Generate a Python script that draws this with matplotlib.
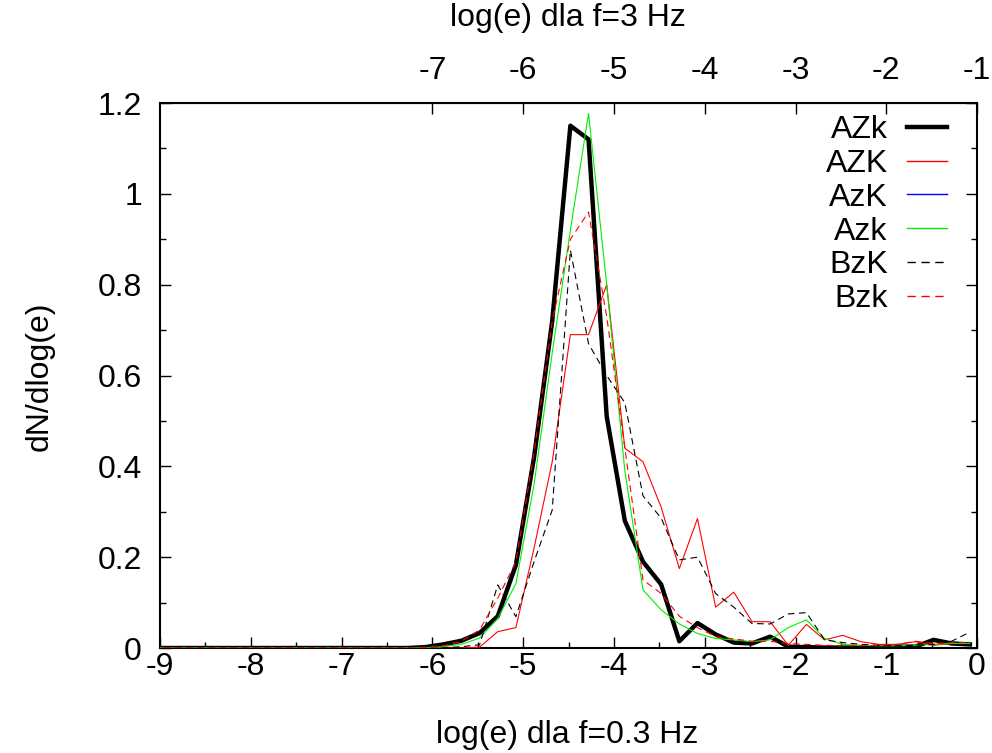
import numpy as np
import matplotlib
matplotlib.use('Agg')
import matplotlib.pyplot as plt
from matplotlib.ticker import MultipleLocator

plt.rcParams['font.family'] = ['Liberation Sans', 'DejaVu Sans']
plt.rcParams['axes.unicode_minus'] = False

# bin centres (log(e) for f=0.3 Hz)
x = [-9.08, -8.88, -8.68, -8.48, -8.28, -8.08, -7.88, -7.68, -7.48, -7.28,
     -7.08, -6.88, -6.68, -6.48, -6.28, -6.08, -5.88, -5.68, -5.48, -5.28,
     -5.08, -4.88, -4.68, -4.48, -4.28, -4.08, -3.88, -3.68, -3.48, -3.28,
     -3.08, -2.88, -2.68, -2.48, -2.28, -2.08, -1.88, -1.68, -1.48, -1.28,
     -1.08, -0.88, -0.68, -0.48, -0.28, -0.08]

AZk = [0, 0, 0, 0, 0, 0, 0, 0, 0, 0,
       0, 0, 0, 0, 0, 0.002, 0.008, 0.016, 0.033, 0.07,
       0.183, 0.42, 0.72, 1.15, 1.12, 0.51, 0.28, 0.19, 0.14, 0.015,
       0.055, 0.03, 0.012, 0.01, 0.025, 0.003, 0.002, 0.001, 0.001, 0.001,
       0.002, 0.003, 0.003, 0.018, 0.01, 0.008]

AZK = [0, 0, 0, 0, 0, 0, 0, 0, 0, 0,
       0, 0, 0, 0, 0, 0, 0, 0, 0.002, 0.036,
       0.045, 0.22, 0.41, 0.69, 0.69, 0.80, 0.44, 0.41, 0.31, 0.175,
       0.285, 0.09, 0.123, 0.058, 0.058, 0.006, 0.052, 0.018, 0.028, 0.014,
       0.008, 0.008, 0.014, 0.006, 0.01, 0.01]

AzK = [0, 0, 0, 0, 0, 0, 0, 0, 0, 0,
       0, 0, 0, 0, 0, 0, 0, 0, 0, 0,
       0, 0, 0, 0, 0, 0, 0, 0, 0, 0,
       0, 0, 0, 0, 0, 0, 0, 0, 0, 0,
       0, 0, 0, 0, 0, 0]

Azk = [0, 0, 0, 0, 0, 0, 0, 0, 0, 0,
       0, 0, 0, 0, 0, 0, 0.003, 0.008, 0.022, 0.065,
       0.142, 0.36, 0.65, 0.92, 1.177, 0.80, 0.39, 0.128, 0.084, 0.053,
       0.032, 0.021, 0.018, 0.014, 0.018, 0.045, 0.062, 0.021, 0.008, 0.006,
       0.005, 0.005, 0.006, 0.008, 0.01, 0.01]

BzK = [0, 0, 0, 0, 0, 0, 0, 0, 0, 0,
       0, 0, 0, 0, 0, 0, 0, 0.003, 0.007, 0.139,
       0.069, 0.19, 0.304, 0.876, 0.67, 0.60, 0.54, 0.335, 0.286, 0.194,
       0.2, 0.12, 0.09, 0.054, 0.053, 0.075, 0.078, 0.018, 0.012, 0.008,
       0.006, 0.005, 0.006, 0.008, 0.015, 0.035]

Bzk = [0, 0, 0, 0, 0, 0, 0, 0, 0, 0,
       0, 0, 0, 0, 0, 0.002, 0.005, 0.015, 0.04, 0.11,
       0.19, 0.43, 0.72, 0.90, 0.96, 0.73, 0.44, 0.15, 0.12, 0.07,
       0.045, 0.025, 0.02, 0.015, 0.015, 0.01, 0.008, 0.006, 0.005, 0.005,
       0.006, 0.008, 0.015, 0.01, 0.012, 0.012]

fs = 23

fig = plt.figure(figsize=(9.92, 7.53), dpi=100)
ax = fig.add_axes([0.1613, 0.1394, 0.8237, 0.7238])

ax.plot(x, AZk, color='black', lw=3.2, label='AZk', zorder=3)
ax.plot(x, AZK, color='red', lw=0.8, label='AZK', zorder=3)
ax.plot(x, AzK, color='blue', lw=0.8, label='AzK', zorder=1)
ax.plot(x, Azk, color='#00ee00', lw=0.8, label='Azk', zorder=3)
ax.plot(x, BzK, color='black', lw=0.8, ls=(0, (6, 4)), label='BzK', zorder=3)
ax.plot(x, Bzk, color='red', lw=0.8, ls=(0, (6, 4)), label='Bzk', zorder=3)

ax.set_xlim(-9, 0)
ax.set_ylim(0, 1.2)
ax.xaxis.set_major_locator(MultipleLocator(1))
ax.xaxis.set_minor_locator(MultipleLocator(0.5))
ax.yaxis.set_minor_locator(MultipleLocator(0.1))
ax.set_yticks([0, 0.2, 0.4, 0.6, 0.8, 1.0, 1.2])
ax.set_yticklabels(['0', '0.2', '0.4', '0.6', '0.8', '1', '1.2'])
ax.tick_params(which='both', direction='in', labelsize=fs, right=True, top=False)
ax.tick_params(which='major', length=8, width=1)
ax.tick_params(which='minor', length=4, width=1)
ax.tick_params(axis='y', which='major', pad=13)
ax.tick_params(axis='x', which='major', pad=3)
for s in ax.spines.values():
    s.set_linewidth(1.5)

# top axis: log(e) for f=3 Hz is shifted by -1
top = ax.secondary_xaxis('top', functions=(lambda v: v - 1, lambda v: v + 1))
top.set_xticks([-7, -6, -5, -4, -3, -2, -1])
top.tick_params(direction='in', length=8, width=1, labelsize=fs, pad=12)

fig.text(0.572, 1 - 735 / 753, 'log(e) dla f=0.3 Hz', fontsize=fs, ha='center', va='center')
fig.text(0.573, 1 - 18 / 753, 'log(e) dla f=3 Hz', fontsize=fs, ha='center', va='center')
fig.text(40 / 992, 1 - 376 / 753, 'dN/dlog(e)', fontsize=fs, ha='center', va='center',
         rotation=90)

leg = ax.legend(loc='upper right', bbox_to_anchor=(0.963, 0.978), frameon=False,
                markerfirst=False, fontsize=fs, handlelength=1.25,
                labelspacing=0.12, handletextpad=0.6, borderaxespad=0, borderpad=0)
for h in leg.get_lines()[1:]:
    h.set_linewidth(1.0)

fig.savefig('out.png', dpi=100)
